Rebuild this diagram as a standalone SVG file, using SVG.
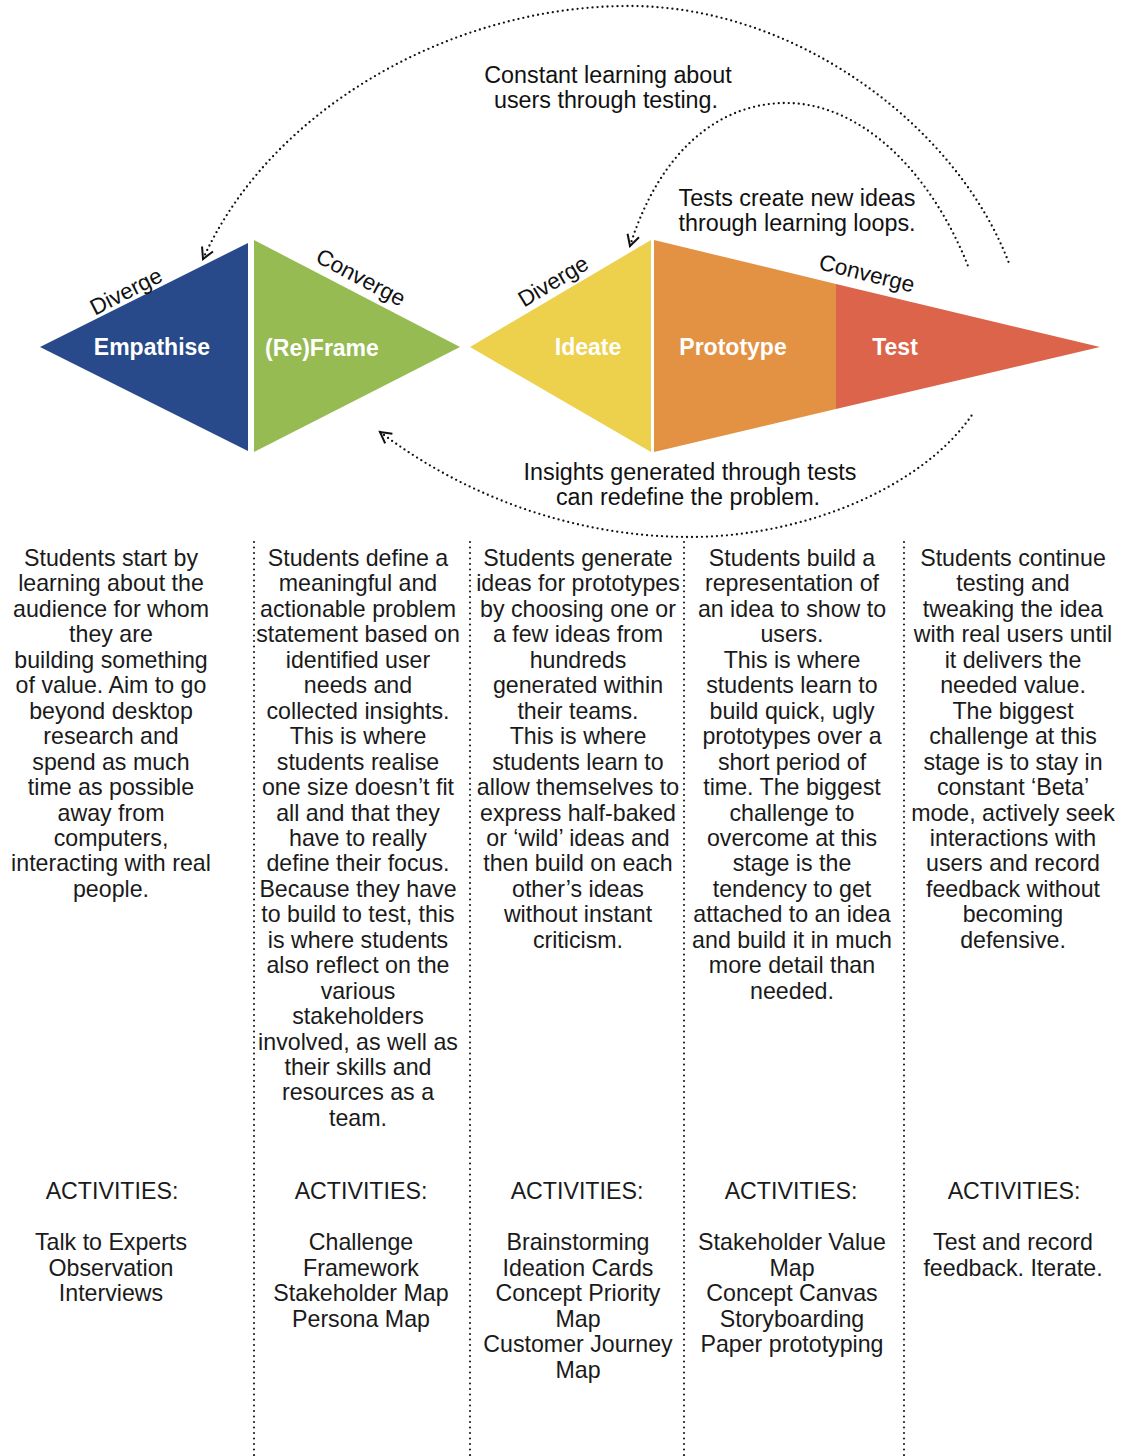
<svg xmlns="http://www.w3.org/2000/svg" width="1121" height="1456" viewBox="0 0 1121 1456">
<defs>
<marker id="arr" markerWidth="16" markerHeight="16" refX="12" refY="8" orient="auto-start-reverse" markerUnits="userSpaceOnUse">
<path d="M1,2 L12,8 L1,14" fill="none" stroke="#111" stroke-width="2"/>
</marker>
<style>
.dot{fill:none;stroke:#111;stroke-width:2.3;stroke-dasharray:0 5;stroke-linecap:round}
.sep{fill:none;stroke:#222;stroke-width:2.2;stroke-dasharray:0 5.5;stroke-linecap:round}
.lbl{font-family:"Liberation Sans",Arial,Helvetica,sans-serif;font-size:22.5px;fill:#111}
.big{font-size:23.3px}
.stage{font-family:"Liberation Sans",Arial,Helvetica,sans-serif;font-size:23px;font-weight:bold;fill:#fff;text-anchor:middle}
.body{font-family:"Liberation Sans",Arial,Helvetica,sans-serif;font-size:23.2px;fill:#1a1a1a;text-anchor:middle}
.mid{text-anchor:middle}
</style>
</defs>
<rect width="1121" height="1456" fill="#fff"/>

<g id="connectors">
<path class="dot" d="M203,259 C270,110 450,6 629,6 C800,6 960,130 1010,266" marker-start="url(#arr)"/>
<path class="dot" d="M630,246 C660,150 720,103 786,103 C860,103 930,170 968,266" marker-start="url(#arr)"/>
<path class="dot" d="M380,432 C470,500 580,537 690,537 C800,537 920,490 972,415" marker-start="url(#arr)"/>
<line class="sep" x1="254" y1="542" x2="254" y2="1456"/>
<line class="sep" x1="470" y1="542" x2="470" y2="1456"/>
<line class="sep" x1="684" y1="542" x2="684" y2="1456"/>
<line class="sep" x1="904" y1="542" x2="904" y2="1456"/>
</g>

<g id="loop-labels" class="lbl big mid">
<text x="608" y="83">Constant learning about</text>
<text x="606" y="108">users through testing.</text>
<text x="797" y="206">Tests create new ideas</text>
<text x="797" y="231">through learning loops.</text>
<text x="690" y="480">Insights generated through tests</text>
<text x="688" y="505">can redefine the problem.</text>
</g>

<g id="empathise">
<polygon points="40,347 248,243 248,451" fill="#284a8a"/>
<text class="stage" x="152" y="355">Empathise</text>
<text class="lbl mid" transform="translate(126,291) rotate(-27)" y="8">Diverge</text>
</g>
<g id="reframe">
<polygon points="254,240 460,347 254,452" fill="#95bb52"/>
<text class="stage" x="322" y="356">(Re)Frame</text>
<text class="lbl mid" transform="translate(361,277) rotate(28)" y="8">Converge</text>
</g>
<g id="ideate">
<polygon points="470,347 651,240 651,452" fill="#edd04b"/>
<text class="stage" x="588" y="355">Ideate</text>
<text class="lbl mid" transform="translate(553,281) rotate(-31)" y="8">Diverge</text>
</g>
<g id="prototype">
<polygon points="654,240 836,284 836,409 654,452" fill="#e39244"/>
<text class="stage" x="733" y="355">Prototype</text>
</g>
<g id="test">
<polygon points="836,284 1100,347 836,409" fill="#db644a"/>
<text class="stage" x="895" y="355">Test</text>
<text class="lbl mid" transform="translate(867,273) rotate(14)" y="8">Converge</text>
</g>

<g id="col-empathise" class="body">
<text y="566"><tspan x="111">Students start by</tspan><tspan x="111" dy="25.45">learning about the</tspan><tspan x="111" dy="25.45">audience for whom</tspan><tspan x="111" dy="25.45">they are</tspan><tspan x="111" dy="25.45">building something</tspan><tspan x="111" dy="25.45">of value. Aim to go</tspan><tspan x="111" dy="25.45">beyond desktop</tspan><tspan x="111" dy="25.45">research and</tspan><tspan x="111" dy="25.45">spend as much</tspan><tspan x="111" dy="25.45">time as possible</tspan><tspan x="111" dy="25.45">away from</tspan><tspan x="111" dy="25.45">computers,</tspan><tspan x="111" dy="25.45">interacting with real</tspan><tspan x="111" dy="25.45">people.</tspan></text>
<text x="112" y="1199">ACTIVITIES:</text>
<text y="1250"><tspan x="111">Talk to Experts</tspan><tspan x="111" dy="25.5">Observation</tspan><tspan x="111" dy="25.5">Interviews</tspan></text>
</g>

<g id="col-reframe" class="body">
<text y="566"><tspan x="358">Students define a</tspan><tspan x="358" dy="25.45">meaningful and</tspan><tspan x="358" dy="25.45">actionable problem</tspan><tspan x="358" dy="25.45">statement based on</tspan><tspan x="358" dy="25.45">identified user</tspan><tspan x="358" dy="25.45">needs and</tspan><tspan x="358" dy="25.45">collected insights.</tspan><tspan x="358" dy="25.45">This is where</tspan><tspan x="358" dy="25.45">students realise</tspan><tspan x="358" dy="25.45">one size doesn’t fit</tspan><tspan x="358" dy="25.45">all and that they</tspan><tspan x="358" dy="25.45">have to really</tspan><tspan x="358" dy="25.45">define their focus.</tspan><tspan x="358" dy="25.45">Because they have</tspan><tspan x="358" dy="25.45">to build to test, this</tspan><tspan x="358" dy="25.45">is where students</tspan><tspan x="358" dy="25.45">also reflect on the</tspan><tspan x="358" dy="25.45">various</tspan><tspan x="358" dy="25.45">stakeholders</tspan><tspan x="358" dy="25.45">involved, as well as</tspan><tspan x="358" dy="25.45">their skills and</tspan><tspan x="358" dy="25.45">resources as a</tspan><tspan x="358" dy="25.45">team.</tspan></text>
<text x="361" y="1199">ACTIVITIES:</text>
<text y="1250"><tspan x="361">Challenge</tspan><tspan x="361" dy="25.5">Framework</tspan><tspan x="361" dy="25.5">Stakeholder Map</tspan><tspan x="361" dy="25.5">Persona Map</tspan></text>
</g>

<g id="col-ideate" class="body">
<text y="566"><tspan x="578">Students generate</tspan><tspan x="578" dy="25.45">ideas for prototypes</tspan><tspan x="578" dy="25.45">by choosing one or</tspan><tspan x="578" dy="25.45">a few ideas from</tspan><tspan x="578" dy="25.45">hundreds</tspan><tspan x="578" dy="25.45">generated within</tspan><tspan x="578" dy="25.45">their teams.</tspan><tspan x="578" dy="25.45">This is where</tspan><tspan x="578" dy="25.45">students learn to</tspan><tspan x="578" dy="25.45">allow themselves to</tspan><tspan x="578" dy="25.45">express half-baked</tspan><tspan x="578" dy="25.45">or ‘wild’ ideas and</tspan><tspan x="578" dy="25.45">then build on each</tspan><tspan x="578" dy="25.45">other’s ideas</tspan><tspan x="578" dy="25.45">without instant</tspan><tspan x="578" dy="25.45">criticism.</tspan></text>
<text x="577" y="1199">ACTIVITIES:</text>
<text y="1250"><tspan x="578">Brainstorming</tspan><tspan x="578" dy="25.5">Ideation Cards</tspan><tspan x="578" dy="25.5">Concept Priority</tspan><tspan x="578" dy="25.5">Map</tspan><tspan x="578" dy="25.5">Customer Journey</tspan><tspan x="578" dy="25.5">Map</tspan></text>
</g>

<g id="col-prototype" class="body">
<text y="566"><tspan x="792">Students build a</tspan><tspan x="792" dy="25.45">representation of</tspan><tspan x="792" dy="25.45">an idea to show to</tspan><tspan x="792" dy="25.45">users.</tspan><tspan x="792" dy="25.45">This is where</tspan><tspan x="792" dy="25.45">students learn to</tspan><tspan x="792" dy="25.45">build quick, ugly</tspan><tspan x="792" dy="25.45">prototypes over a</tspan><tspan x="792" dy="25.45">short period of</tspan><tspan x="792" dy="25.45">time. The biggest</tspan><tspan x="792" dy="25.45">challenge to</tspan><tspan x="792" dy="25.45">overcome at this</tspan><tspan x="792" dy="25.45">stage is the</tspan><tspan x="792" dy="25.45">tendency to get</tspan><tspan x="792" dy="25.45">attached to an idea</tspan><tspan x="792" dy="25.45">and build it in much</tspan><tspan x="792" dy="25.45">more detail than</tspan><tspan x="792" dy="25.45">needed.</tspan></text>
<text x="791" y="1199">ACTIVITIES:</text>
<text y="1250"><tspan x="792">Stakeholder Value</tspan><tspan x="792" dy="25.5">Map</tspan><tspan x="792" dy="25.5">Concept Canvas</tspan><tspan x="792" dy="25.5">Storyboarding</tspan><tspan x="792" dy="25.5">Paper prototyping</tspan></text>
</g>

<g id="col-test" class="body">
<text y="566"><tspan x="1013">Students continue</tspan><tspan x="1013" dy="25.45">testing and</tspan><tspan x="1013" dy="25.45">tweaking the idea</tspan><tspan x="1013" dy="25.45">with real users until</tspan><tspan x="1013" dy="25.45">it delivers the</tspan><tspan x="1013" dy="25.45">needed value.</tspan><tspan x="1013" dy="25.45">The biggest</tspan><tspan x="1013" dy="25.45">challenge at this</tspan><tspan x="1013" dy="25.45">stage is to stay in</tspan><tspan x="1013" dy="25.45">constant ‘Beta’</tspan><tspan x="1013" dy="25.45">mode, actively seek</tspan><tspan x="1013" dy="25.45">interactions with</tspan><tspan x="1013" dy="25.45">users and record</tspan><tspan x="1013" dy="25.45">feedback without</tspan><tspan x="1013" dy="25.45">becoming</tspan><tspan x="1013" dy="25.45">defensive.</tspan></text>
<text x="1014" y="1199">ACTIVITIES:</text>
<text y="1250"><tspan x="1013">Test and record</tspan><tspan x="1013" dy="25.5">feedback. Iterate.</tspan></text>
</g>
</svg>
